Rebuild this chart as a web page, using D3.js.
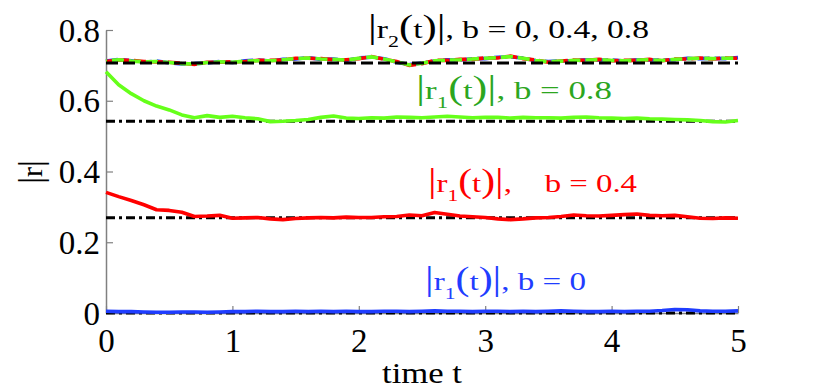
<!DOCTYPE html>
<html><head><meta charset="utf-8">
<script src="https://cdn.jsdelivr.net/npm/d3@7"></script>
<style>body{margin:0;background:#fff}svg{display:block}</style>
</head><body>
<svg id="c" width="814" height="392" font-family="Liberation Serif"></svg>
<script>
// ---- data ----
const times = [0,0.1,0.2,0.3,0.4,0.5,0.6,0.7,0.8,0.9,1.0,1.1,1.2,1.3,1.4,1.5,1.6,1.7,1.8,1.9,2.0,2.1,2.2,2.3,2.4,2.5,2.6,2.7,2.8,2.9,3.0,3.1,3.2,3.3,3.4,3.5,3.6,3.7,3.8,3.9,4.0,4.1,4.2,4.3,4.4,4.5,4.6,4.7,4.8,4.9,5.0];
const r1_b08 = [0.682,0.645,0.620,0.600,0.585,0.574,0.560,0.552,0.558,0.553,0.556,0.552,0.549,0.541,0.542,0.544,0.547,0.553,0.557,0.551,0.550,0.552,0.551,0.554,0.553,0.552,0.554,0.556,0.554,0.552,0.553,0.553,0.551,0.553,0.552,0.552,0.551,0.553,0.554,0.552,0.551,0.550,0.551,0.549,0.548,0.547,0.546,0.544,0.541,0.540,0.544];
const r1_b04 = [0.341,0.329,0.318,0.306,0.292,0.290,0.285,0.273,0.274,0.276,0.268,0.269,0.270,0.266,0.264,0.267,0.269,0.270,0.269,0.271,0.270,0.270,0.272,0.273,0.277,0.275,0.284,0.279,0.274,0.272,0.270,0.266,0.264,0.266,0.269,0.270,0.273,0.277,0.275,0.274,0.276,0.278,0.280,0.276,0.275,0.276,0.272,0.268,0.267,0.269,0.268];
const r1_b0  = [0.005,0.004,0.004,0.003,0.002,0.002,0.003,0.003,0.002,0.003,0.004,0.004,0.005,0.004,0.004,0.005,0.004,0.005,0.004,0.005,0.004,0.004,0.005,0.005,0.004,0.005,0.006,0.005,0.005,0.004,0.005,0.005,0.004,0.005,0.004,0.005,0.006,0.005,0.004,0.004,0.005,0.004,0.005,0.005,0.007,0.010,0.009,0.006,0.005,0.005,0.006];
const r2_b0  = [0.712,0.717,0.713,0.709,0.712,0.707,0.704,0.705,0.707,0.711,0.708,0.713,0.715,0.712,0.717,0.718,0.722,0.717,0.718,0.714,0.721,0.723,0.719,0.709,0.702,0.707,0.712,0.716,0.715,0.719,0.719,0.723,0.724,0.721,0.713,0.711,0.713,0.713,0.716,0.715,0.715,0.712,0.716,0.715,0.715,0.716,0.720,0.719,0.720,0.719,0.722];
const r2_b04 = [0.711,0.715,0.714,0.711,0.710,0.709,0.706,0.703,0.709,0.709,0.710,0.711,0.714,0.714,0.715,0.720,0.720,0.719,0.716,0.716,0.719,0.725,0.717,0.711,0.700,0.705,0.714,0.714,0.717,0.717,0.721,0.721,0.726,0.719,0.715,0.709,0.712,0.715,0.714,0.717,0.713,0.714,0.714,0.717,0.713,0.718,0.718,0.721,0.718,0.721,0.720];
const r2_b08 = [0.713,0.716,0.712,0.710,0.711,0.708,0.705,0.704,0.708,0.710,0.709,0.712,0.713,0.713,0.716,0.719,0.721,0.718,0.717,0.715,0.720,0.724,0.718,0.710,0.701,0.706,0.713,0.715,0.716,0.718,0.720,0.722,0.725,0.720,0.714,0.710,0.712,0.714,0.715,0.716,0.714,0.713,0.715,0.716,0.714,0.717,0.719,0.720,0.719,0.720,0.721];
const ref_r2 = 0.707;
const ref_r1 = [0, 0.269, 0.542];
const xTicks = [0,1,2,3,4,5];
const yTicks = [0,0.2,0.4,0.6,0.8];
const xTickLabels = ["0","1","2","3","4","5"];
const yTickLabels = ["0","0.2","0.4","0.6","0.8"];

// ---- layout ----
const FONT = "Liberation Serif";
const svg = d3.select("#c");
const x = d3.scaleLinear().domain([0,5]).range([106,738]);
const y = d3.scaleLinear().domain([0,0.8]).range([313,30]);
const GREEN_LINE = "#66ff1a", GREEN_TXT = "#2ca61f", RED = "#ff0000", BLUE = "#1f3dff";

// axes
const axisCol = "#808080";
const gx = svg.append("g").attr("transform","translate(0,313)")
  .call(d3.axisBottom(x).tickValues(xTicks).tickSizeInner(-7).tickSizeOuter(0).tickFormat((d,i)=>xTickLabels[i]));
const gy = svg.append("g").attr("transform","translate(106,0)")
  .call(d3.axisLeft(y).tickValues(yTicks).tickSizeInner(-7).tickSizeOuter(0).tickFormat((d,i)=>yTickLabels[i]));
[gx,gy].forEach(g=>{
  g.attr("font-family",FONT).attr("font-size",32);
  g.select(".domain").attr("stroke",axisCol).attr("stroke-width",1.5);
  g.selectAll(".tick line").attr("stroke",axisCol).attr("stroke-width",1.2);
  g.selectAll(".tick text").attr("fill","#000").attr("font-family",FONT).attr("font-size",33);
});
gx.selectAll(".tick text").attr("y",0).attr("dy",null).attr("transform","translate(0,39)");
gy.selectAll(".tick text").attr("x",-6).attr("dy","0.34em");

const line = arr => d3.line().x((d,i)=>x(times[i])).y(d=>y(d))(arr);
const plot = svg.append("g");

// theoretical dash-dot references
ref_r1.forEach(v=>{
  plot.append("path").attr("d", d3.line()([[x(0),y(v)],[x(5),y(v)]]))
    .attr("stroke","#000").attr("stroke-width",3).attr("fill","none").attr("stroke-dasharray","9,4,3,4");
});
// r1 curves
[[r1_b08,GREEN_LINE],[r1_b04,RED],[r1_b0,BLUE]].forEach(([arr,c])=>{
  plot.append("path").attr("d",line(arr)).attr("fill","none").attr("stroke",c).attr("stroke-width",3.6).attr("stroke-linejoin","round");
});
// r2 curves (dashed)
[[r2_b0,BLUE,0],[r2_b04,RED,6],[r2_b08,GREEN_LINE,11]].forEach(([arr,c,off])=>{
  plot.append("path").attr("d",line(arr)).attr("fill","none").attr("stroke",c).attr("stroke-width",3.6)
    .attr("stroke-dasharray","12,5").attr("stroke-dashoffset",off);
});
plot.append("path").attr("d", d3.line()([[x(0),y(ref_r2)],[x(5),y(ref_r2)]]))
  .attr("stroke","#000").attr("stroke-width",3).attr("fill","none").attr("stroke-dasharray","12,5");

// annotation labels
function label(xp, yp, w, color, sub, tail){
  const t = svg.append("text").attr("x",xp).attr("y",yp).attr("fill",color)
    .attr("font-family",FONT).attr("font-size",26).attr("xml:space","preserve")
    .attr("textLength",w).attr("lengthAdjust","spacingAndGlyphs");
  t.append("tspan").attr("font-size",34).text("|");
  t.append("tspan").text("r");
  t.append("tspan").attr("font-size",17).attr("dy",9).text(sub);
  t.append("tspan").attr("dy",-9).attr("font-size",33).text("(");
  t.append("tspan").text("t");
  t.append("tspan").attr("font-size",33).text(")");
  t.append("tspan").attr("font-size",34).text("|");
  t.append("tspan").text(tail);
}
label(368, 38, 281, "#000", "2", ", b = 0, 0.4, 0.8");
label(416, 99, 196, GREEN_TXT, "1", ", b = 0.8");
label(428, 192, 209, RED, "1", ",    b = 0.4");
label(425, 290, 161, BLUE, "1", ", b = 0");

// axis titles
svg.append("text").attr("x",422).attr("y",383).attr("text-anchor","middle")
  .attr("font-family",FONT).attr("font-size",30).attr("textLength",80).attr("lengthAdjust","spacingAndGlyphs").text("time t");
const yl = svg.append("text").attr("transform","translate(42,172) rotate(-90)").attr("text-anchor","middle")
  .attr("font-family",FONT).attr("font-size",30);
yl.append("tspan").attr("font-size",34).text("|");
yl.append("tspan").text("r");
yl.append("tspan").attr("font-size",34).text("|");
</script>
</body></html>
